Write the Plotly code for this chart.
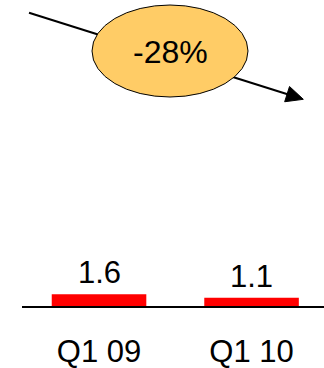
import plotly.graph_objects as go

# Chart data
categories = ["Q1 09", "Q1 10"]
values = [1.6, 1.1]
change_label = "-28%"

W, H = 324, 368
FONT = "Arial, Liberation Sans, sans-serif"


def px(x):
    return x / W


def py(y):
    return 1 - y / H


fig = go.Figure(
    go.Bar(
        x=categories,
        y=values,
        marker=dict(color="#FF0000", line=dict(width=0)),
        width=0.62,
    )
)

# Value labels sit just above each bar
value_labels = [
    dict(text=f"{v:.1f}", x=c, y=v, xref="x", yref="y",
         xanchor="center", yanchor="bottom", yshift=2, showarrow=False,
         font=dict(size=31, color="#000000", family=FONT))
    for c, v in zip(categories, values)
]

# Trend arrow: shaft, head, then the callout ellipse on top
tip = (303.3, 99.3)
ux, uy = 0.953, 0.304
head_len, head_half = 17, 8
bx, by = tip[0] - head_len * ux, tip[1] - head_len * uy
p1 = (bx - head_half * uy, by + head_half * ux)
p2 = (bx + head_half * uy, by - head_half * ux)

shapes = [
    dict(type="line", xref="paper", yref="paper",
         x0=px(29), y0=py(12.7), x1=px(bx + 2), y1=py(by + 0.6),
         line=dict(color="#000000", width=2)),
    dict(type="path", xref="paper", yref="paper",
         path=(f"M {px(tip[0])} {py(tip[1])} L {px(p1[0])} {py(p1[1])} "
               f"L {px(p2[0])} {py(p2[1])} Z"),
         fillcolor="#000000", line=dict(color="#000000", width=1)),
    dict(type="circle", xref="paper", yref="paper",
         x0=px(92), x1=px(248), y0=py(97), y1=py(5),
         fillcolor="#FFCC66", line=dict(color="#000000", width=1)),
]

fig.update_layout(
    width=W, height=H,
    margin=dict(l=0, r=0, t=0, b=0),
    paper_bgcolor="white", plot_bgcolor="white",
    showlegend=False,
    shapes=shapes,
    annotations=value_labels + [
        dict(text=change_label, xref="paper", yref="paper",
             x=px(170), y=py(51.5), xanchor="center", yanchor="middle",
             showarrow=False, font=dict(size=32, color="#000000", family=FONT)),
    ],
    xaxis=dict(
        domain=[px(22), 1],
        range=[-0.505, 1.475],
        automargin=False,
        showline=True, linecolor="#000000", linewidth=2,
        showgrid=False, zeroline=False, ticks="",
        tickfont=dict(size=31, color="#000000", family=FONT),
        ticklabelstandoff=17,
        fixedrange=True,
    ),
    yaxis=dict(
        domain=[1 - 306 / H, 1],
        range=[0, 306 / 7.4],
        automargin=False,
        visible=False, showgrid=False, zeroline=False,
        fixedrange=True,
    ),
)

fig.write_html("out.html")
